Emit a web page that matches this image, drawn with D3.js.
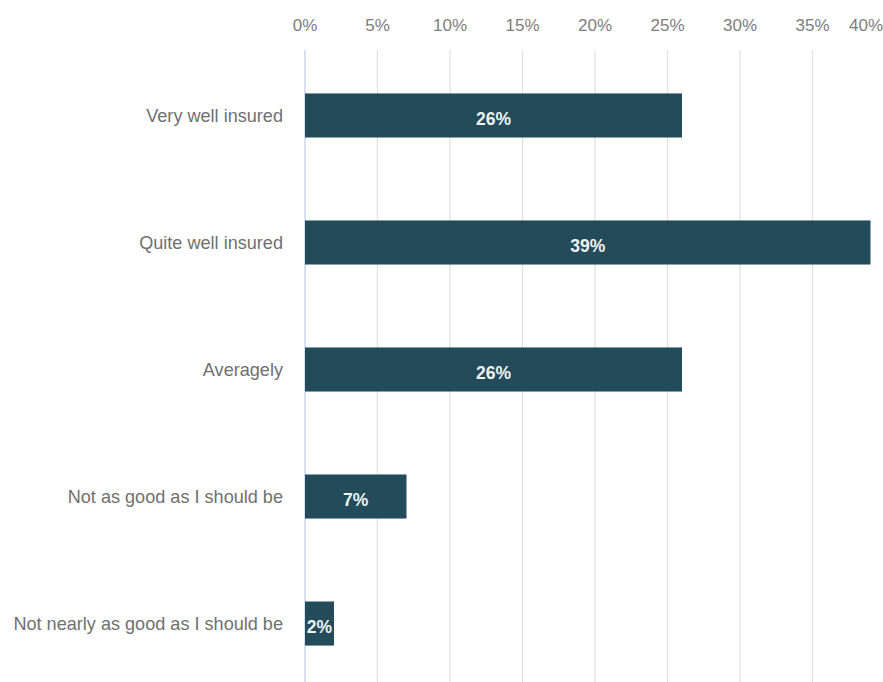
<!DOCTYPE html>
<html>
<head>
<meta charset="utf-8">
<script src="https://cdn.jsdelivr.net/npm/d3@7"></script>
<style>
  html, body { margin: 0; padding: 0; background: #ffffff; }
  svg { display: block; }
</style>
</head>
<body>
<svg id="chart" width="883" height="682"></svg>
<script>
// How well insured respondents feel
const categories = [
  "Very well insured",
  "Quite well insured",
  "Averagely",
  "Not as good as I should be",
  "Not nearly as good as I should be"
];
const values = [26, 39, 26, 7, 2];
const tickValues = [0, 5, 10, 15, 20, 25, 30, 35, 40];

const W = 883, H = 682;
const svg = d3.select("#chart");

const x = d3.scaleLinear().domain([0, 40]).range([305, 885]);
const y = d3.scaleBand()
  .domain(categories)
  .range([10.5, 728.5])
  .padding(0.653);

// vertical gridlines
svg.append("g")
  .selectAll("line")
  .data(tickValues.filter(d => d > 0 && d < 40))
  .join("line")
  .attr("x1", d => x(d)).attr("x2", d => x(d))
  .attr("y1", 50).attr("y2", H)
  .attr("stroke", "#e2e2e4")
  .attr("stroke-width", 1.3);

// baseline at 0%
svg.append("line")
  .attr("x1", x(0)).attr("x2", x(0))
  .attr("y1", 50).attr("y2", H)
  .attr("stroke", "#c9d6ec")
  .attr("stroke-width", 1.5);

// top axis labels
svg.append("g")
  .selectAll("text")
  .data(tickValues)
  .join("text")
  .attr("x", d => Math.min(x(d), W - 17))
  .attr("y", 31)
  .attr("text-anchor", "middle")
  .attr("font-family", "Liberation Sans, Arial, sans-serif")
  .attr("font-size", 17)
  .attr("fill", "#7d7d7d")
  .text(d => d + "%");

// bars
svg.append("g")
  .selectAll("rect")
  .data(values)
  .join("rect")
  .attr("x", x(0))
  .attr("y", (d, i) => y(categories[i]))
  .attr("width", d => x(d) - x(0))
  .attr("height", y.bandwidth())
  .attr("fill", "#234b5a");

// category labels
svg.append("g")
  .selectAll("text")
  .data(categories)
  .join("text")
  .attr("x", 283)
  .attr("y", d => y(d) + y.bandwidth() / 2)
  .attr("dy", "0.35em")
  .attr("text-anchor", "end")
  .attr("font-family", "Liberation Sans, Arial, sans-serif")
  .attr("font-size", 18.1)
  .attr("fill", "#707070")
  .text(d => d);

// value labels inside bars
svg.append("g")
  .selectAll("text")
  .data(values)
  .join("text")
  .attr("x", d => (x(0) + x(d)) / 2)
  .attr("y", (d, i) => y(categories[i]) + y.bandwidth() / 2 + 3)
  .attr("dy", "0.35em")
  .attr("text-anchor", "middle")
  .attr("font-family", "Liberation Sans, Arial, sans-serif")
  .attr("font-size", 17.5)
  .attr("font-weight", "bold")
  .attr("fill", "#eef2f3")
  .text(d => d + "%");
</script>
</body>
</html>
